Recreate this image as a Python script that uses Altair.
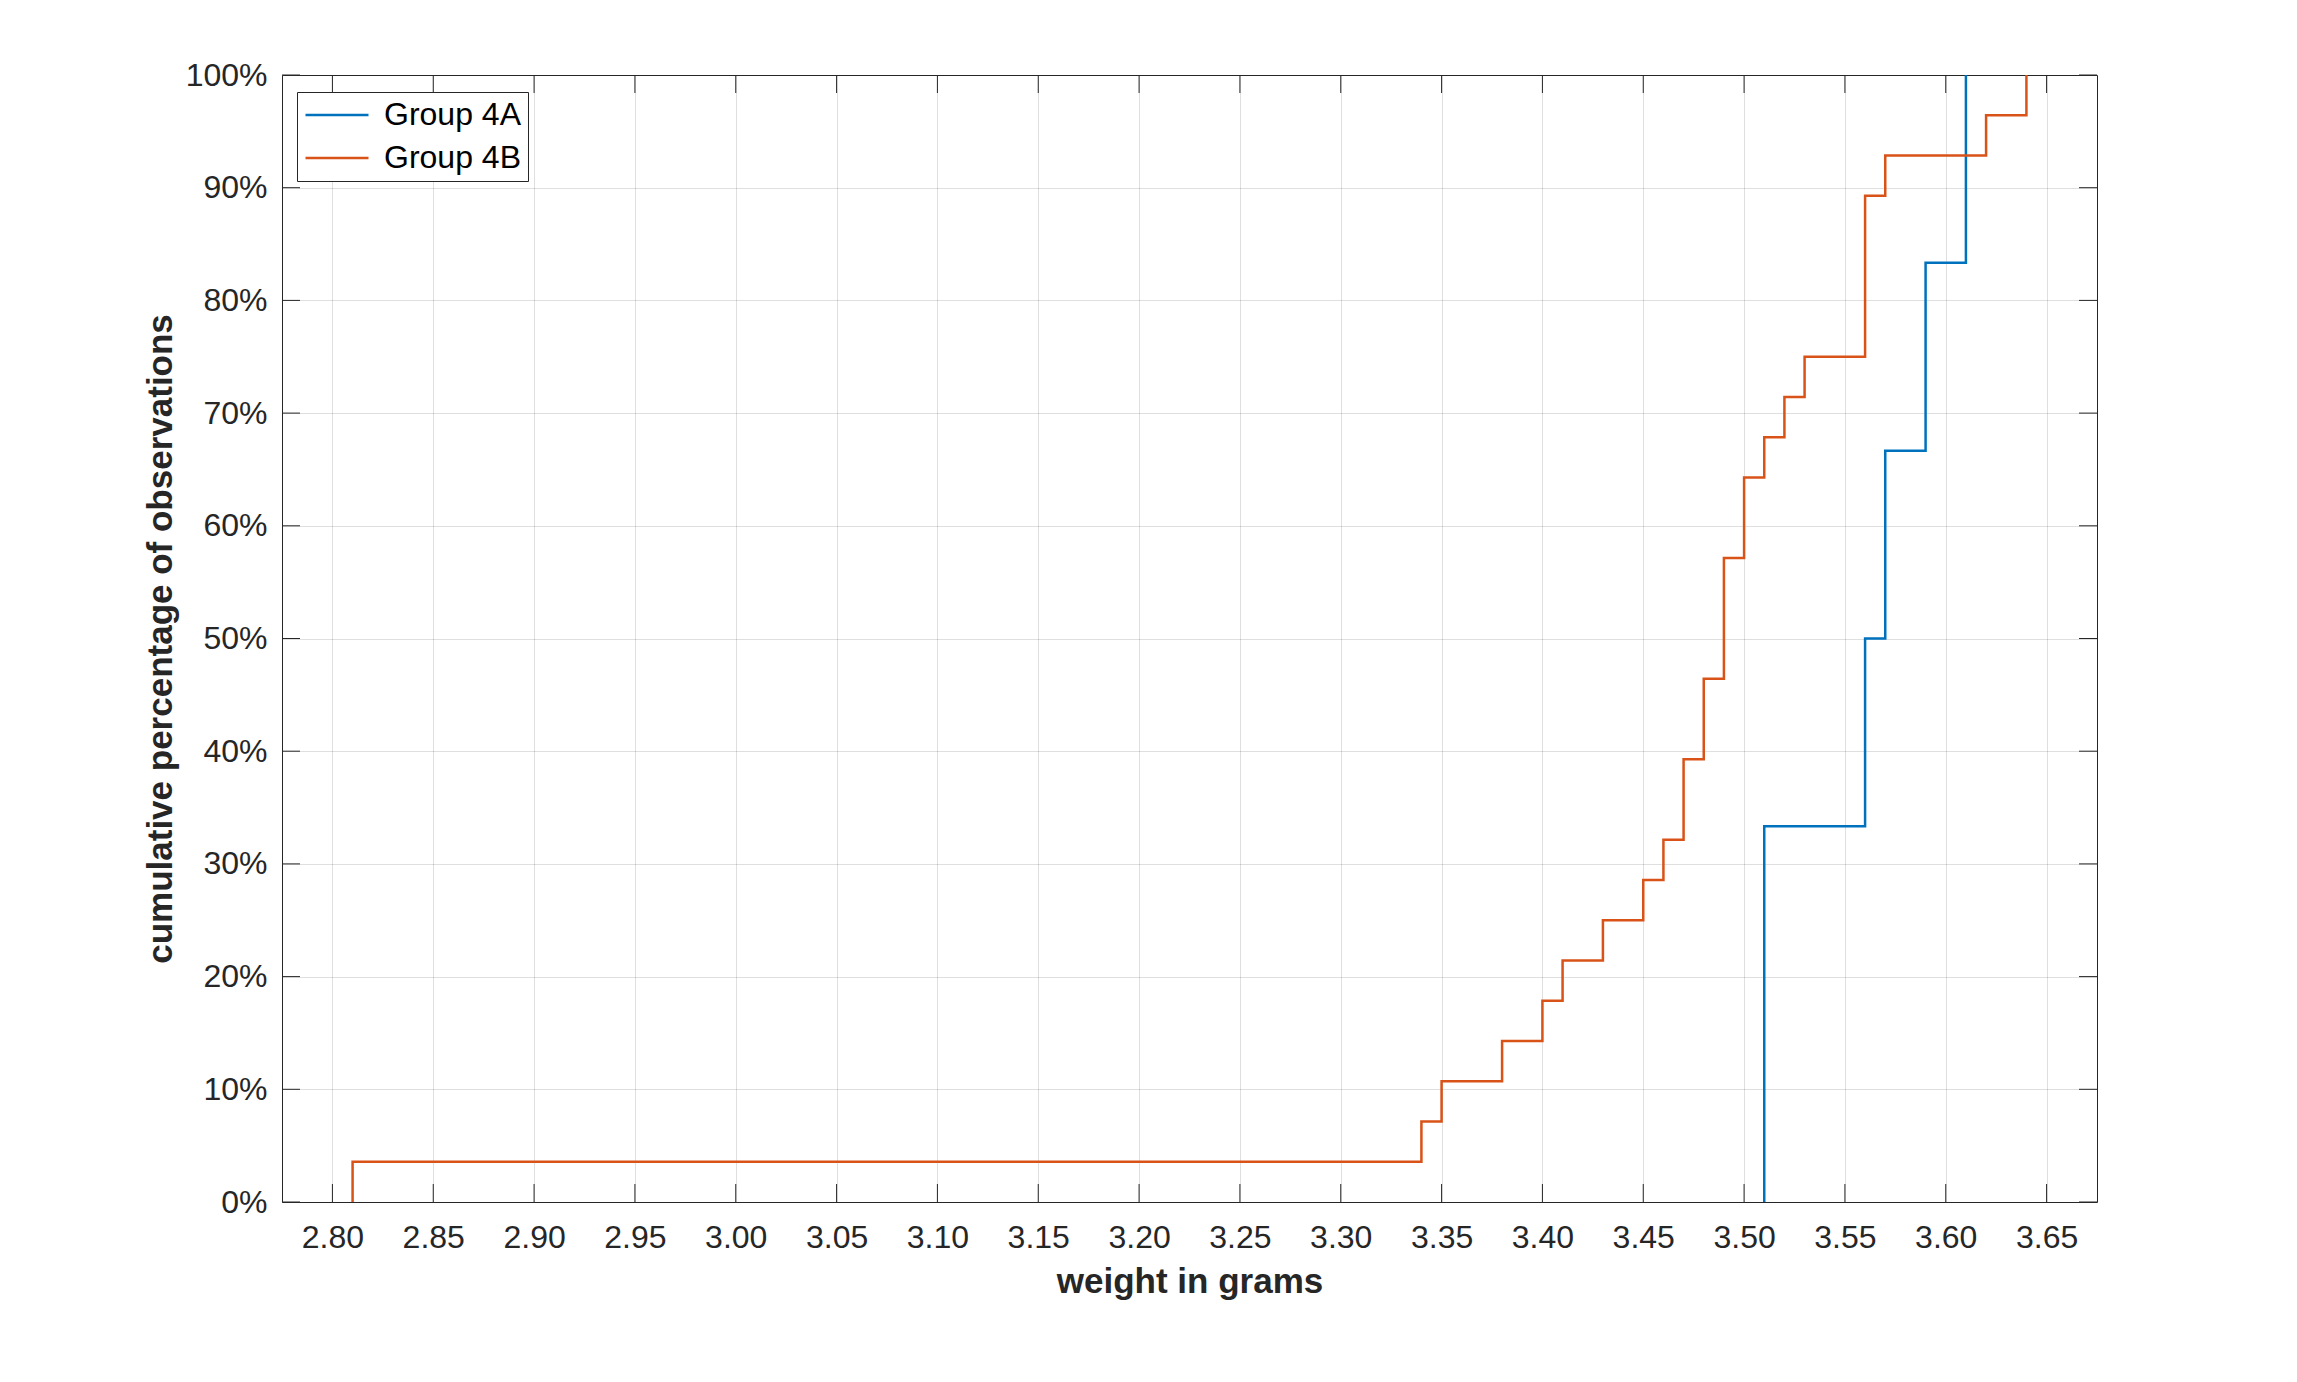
import altair as alt
import pandas as pd

# ---------------- data ----------------
groups = ["Group 4A", "Group 4B"]
colors = ["#0072BD", "#D95319"]

# Group 4A: step positions (weight in grams) and cumulative percentage after each step
g4a_weights = [3.51, 3.56, 3.57, 3.59, 3.61]
g4a_cum_pct = [33.33, 50.00, 66.67, 83.33, 100.00]

# Group 4B
g4b_weights = [2.81, 3.34, 3.35, 3.38, 3.40, 3.41, 3.43, 3.45, 3.46, 3.47,
               3.48, 3.49, 3.50, 3.51, 3.52, 3.53, 3.56, 3.57, 3.62, 3.64]
g4b_cum_pct = [3.57, 7.14, 10.71, 14.29, 17.86, 21.43, 25.00, 28.57, 32.14, 39.29,
               46.43, 57.14, 64.29, 67.86, 71.43, 75.00, 89.29, 92.86, 96.43, 100.00]

x_ticks = [2.80, 2.85, 2.90, 2.95, 3.00, 3.05, 3.10, 3.15, 3.20, 3.25,
           3.30, 3.35, 3.40, 3.45, 3.50, 3.55, 3.60, 3.65]
y_ticks = [0, 10, 20, 30, 40, 50, 60, 70, 80, 90, 100]

x_domain = [2.775, 3.675]
y_domain = [0, 100]

# ---------------- build tables ----------------
rows = []
for name, ws, ps in [("Group 4A", g4a_weights, g4a_cum_pct),
                     ("Group 4B", g4b_weights, g4b_cum_pct)]:
    rows.append({"group": name, "weight": ws[0], "pct": 0.0, "order": 0})
    for i, (w, p) in enumerate(zip(ws, ps)):
        rows.append({"group": name, "weight": w, "pct": p, "order": i + 1})
df = pd.DataFrame(rows)
xt = pd.DataFrame({"weight": x_ticks})
yt = pd.DataFrame({"pct": y_ticks})

W, H = 1815, 1127
TL = 18
AXC = "#262626"
FONT = "Liberation Sans"
LW = 2.5

xscale = alt.Scale(domain=x_domain, nice=False, zero=False)
yscale = alt.Scale(domain=y_domain, nice=False, zero=False)

xaxis = alt.Axis(values=x_ticks, labelExpr="format(datum.value, '.2f')",
                 title="weight in grams", labelPadding=20, titlePadding=11)
yaxis = alt.Axis(values=y_ticks, labelExpr="datum.value + '%'",
                 title="cumulative percentage of observations",
                 labelPadding=15, titlePadding=7)

xenc = alt.X("weight:Q", scale=xscale, axis=xaxis)
yenc = alt.Y("pct:Q", scale=yscale, axis=yaxis)

lines = alt.Chart(df).mark_line(interpolate="step-after", strokeWidth=LW).encode(
    x=xenc,
    y=yenc,
    color=alt.Color("group:N",
                    scale=alt.Scale(domain=groups, range=colors),
                    legend=alt.Legend(title=None, orient="none", legendX=15, legendY=17,
                                      symbolType="stroke", symbolSize=3969,
                                      symbolStrokeWidth=LW, labelFontSize=32,
                                      labelFont=FONT, labelColor="black",
                                      strokeColor=AXC, fillColor="white",
                                      padding=7, rowPadding=11, labelOffset=14,
                                      clipHeight=32, direction="vertical")),
    order="order:Q",
)

tick_bottom = alt.Chart(xt).mark_rule(color=AXC, strokeWidth=1).encode(
    x=xenc, y=alt.value(H), y2=alt.value(H - TL))
tick_top = alt.Chart(xt).mark_rule(color=AXC, strokeWidth=1).encode(
    x=xenc, y=alt.value(0), y2=alt.value(TL))
tick_left = alt.Chart(yt).mark_rule(color=AXC, strokeWidth=1).encode(
    y=yenc, x=alt.value(0), x2=alt.value(TL))
tick_right = alt.Chart(yt).mark_rule(color=AXC, strokeWidth=1).encode(
    y=yenc, x=alt.value(W - TL), x2=alt.value(W))

chart = alt.layer(lines, tick_bottom, tick_top, tick_left, tick_right).properties(
    width=W, height=H,
    padding={"left": 274, "top": 67, "right": 180, "bottom": 150},
    autosize=alt.AutoSizeParams(type="none"),
    background="white",
).configure_view(
    stroke=AXC, strokeWidth=1
).configure_axis(
    domain=False, ticks=False, grid=True, gridColor=AXC, gridOpacity=0.15, gridWidth=1,
    labelFont=FONT, labelFontSize=32, labelColor=AXC,
    titleFont=FONT, titleFontSize=35, titleFontWeight="bold", titleColor=AXC,
)

chart.save("out.html", embed_options={"renderer": "svg", "actions": False})
